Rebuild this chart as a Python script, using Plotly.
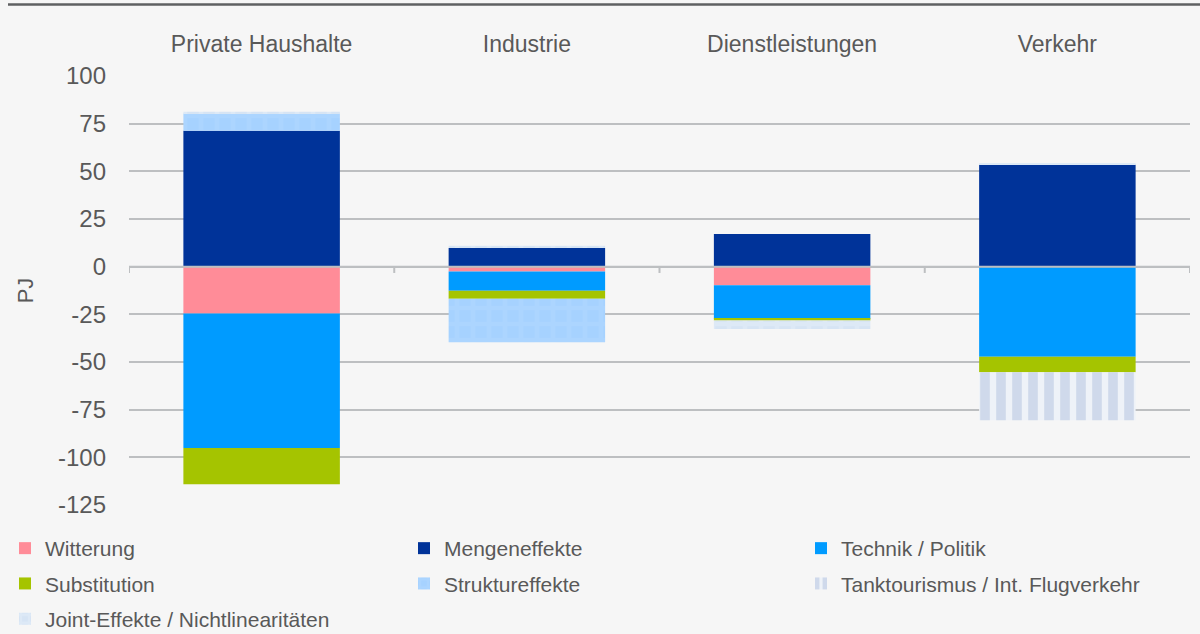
import plotly.graph_objects as go

categories = ["Private Haushalte", "Industrie", "Dienstleistungen", "Verkehr"]

witterung = [-24.6, -2.5, -9.8, 0]
mengeneffekte = [71.3, 9.8, 17.1, 53.5]
technik = [-70.5, -10.1, -17.5, -47.2]
substitution = [-19.0, -4.2, -0.9, -8.2]
struktureffekte = [9.0, -22.9, 0, 0]
tanktourismus = [0, 0, 0, -25.2]
joint = [1.0, 1.2, -4.5, 0.6]

y_tickvals = [100, 75, 50, 25, 0, -25, -50, -75, -100, -125]
y_ticktext = ["100", "75", "50", "25", "0", "-25", "-50", "-75", "-100", "-125"]

FONT = "Liberation Sans, Arial, sans-serif"
TXT = "#595959"

W, H = 1200, 634
ML, MR, MT, MB = 0, 10, 76, 0
PW, PH = W - ML - MR, H - MT - MB
PLOT_L, PLOT_B = 129, 505


def px_x(p):
    return (p - ML) / PW


def px_y(p):
    return (H - MB - p) / PH


fig = go.Figure()


def add(name, vals, color, legend, pattern=None):
    marker = dict(color=color, line=dict(width=0))
    if pattern:
        marker["pattern"] = pattern
    fig.add_trace(go.Bar(x=categories, y=vals, name=name, marker=marker,
                         legend=legend, legendgroup=name))


add("Witterung", witterung, "#FF8C98", "legend")
add("Mengeneffekte", mengeneffekte, "#003399", "legend2")
add("Technik / Politik", technik, "#009BFF", "legend3")
add("Substitution", substitution, "#A5C400", "legend")
add("Struktureffekte", struktureffekte, "#A9D5FF", "legend2",
    dict(shape="+", bgcolor="#A6D2FF", fgcolor="#ACD5FF", size=16, solidity=0.5, fillmode="replace"))
add("Tanktourismus / Int. Flugverkehr", tanktourismus, "#EEF2F8", "legend3",
    dict(shape="|", bgcolor="#EEF2F8", fgcolor="#CFD9EB", size=16, solidity=0.6, fillmode="replace"))
add("Joint-Effekte / Nichtlinearitäten", joint, "#DCE8F5", "legend",
    dict(shape="+", bgcolor="#D6E4F4", fgcolor="#DDE9F6", size=16, solidity=0.5, fillmode="replace"))

shapes = []
shapes.append(dict(type="line", xref="paper", yref="y", x0=px_x(PLOT_L), x1=1, y0=0, y1=0,
                   line=dict(color="#BDBFC1", width=2), layer="above"))
for b in [-0.5, 0.5, 1.5, 2.5, 3.5]:
    shapes.append(dict(type="line", xref="x", yref="y", x0=b, x1=b, y0=0, y1=-3.3,
                       line=dict(color="#BDBFC1", width=2), layer="above"))
shapes.append(dict(type="line", xref="paper", yref="paper", x0=px_x(8), x1=px_x(1200),
                   y0=px_y(4.5), y1=px_y(4.5), line=dict(color="#5F6062", width=2.5)))

legend_common = dict(orientation="v", yanchor="top", xanchor="left",
                     font=dict(size=21, color=TXT), bgcolor="rgba(0,0,0,0)",
                     tracegroupgap=5, itemsizing="constant", traceorder="grouped")
leg_y = px_y(528)

fig.update_layout(
    width=W, height=H,
    barmode="relative",
    bargap=0.41,
    paper_bgcolor="#F6F6F6",
    plot_bgcolor="#F6F6F6",
    font=dict(family=FONT, color=TXT, size=21),
    margin=dict(l=ML, r=MR, t=MT, b=MB, autoexpand=False),
    xaxis=dict(side="top", domain=[px_x(PLOT_L), 1], showgrid=False, showline=False,
               ticks="", tickfont=dict(size=23, color=TXT), ticklabelstandoff=18,
               range=[-0.5, 3.5], automargin=False),
    yaxis=dict(domain=[px_y(PLOT_B), 1], range=[-125, 100], tickvals=y_tickvals,
               ticktext=y_ticktext, showgrid=True, gridcolor="#BDBFC1", gridwidth=2,
               zeroline=False, showline=False, ticks="", automargin=False,
               tickfont=dict(size=24, color=TXT), ticklabelstandoff=22,
               title=dict(text="PJ", font=dict(size=22, color=TXT), standoff=18)),
    legend=dict(x=px_x(5), y=leg_y, **legend_common),
    legend2=dict(x=px_x(404), y=leg_y, **legend_common),
    legend3=dict(x=px_x(801), y=leg_y, **legend_common),
    shapes=shapes,
)

fig.write_html(
    "out.html",
    config={"displayModeBar": False},
    post_script="document.body.style.margin='0';document.body.style.overflow='hidden';",
)
